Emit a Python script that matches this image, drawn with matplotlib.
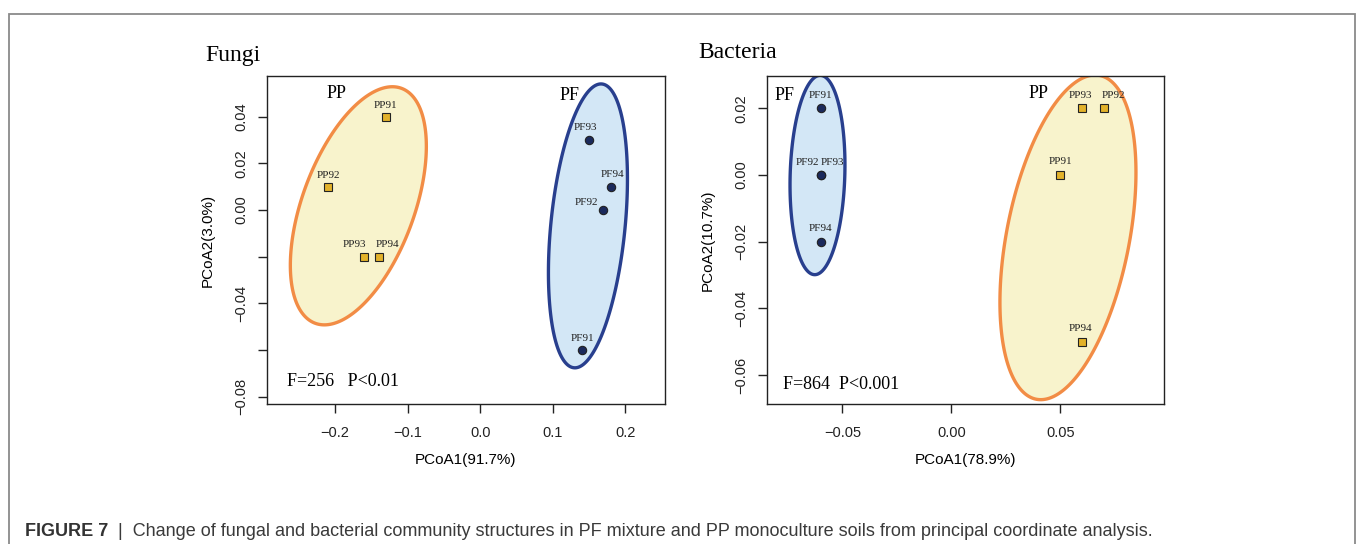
import numpy as np
import matplotlib
matplotlib.use('Agg')
import matplotlib.pyplot as plt

# Fungi PCoA scores
fungi_pp_names = ['PP91', 'PP92', 'PP93', 'PP94']
fungi_pp_x = [-0.13, -0.21, -0.16, -0.14]
fungi_pp_y = [0.04, 0.01, -0.02, -0.02]
fungi_pf_names = ['PF91', 'PF92', 'PF93', 'PF94']
fungi_pf_x = [0.14, 0.17, 0.15, 0.18]
fungi_pf_y = [-0.06, 0.00, 0.03, 0.01]

# Bacteria PCoA scores
bact_pf_names = ['PF91', 'PF92', 'PF93', 'PF94']
bact_pf_x = [-0.06, -0.06, -0.06, -0.06]
bact_pf_y = [0.02, 0.00, 0.00, -0.02]
bact_pp_names = ['PP91', 'PP92', 'PP93', 'PP94']
bact_pp_x = [0.05, 0.07, 0.06, 0.06]
bact_pp_y = [0.00, 0.02, 0.02, -0.05]

# group ellipses: centre x, centre y, sd x, sd y, correlation
fungi_pp_ell = [-0.168, 0.0018, 0.0938, 0.0510, 0.50]
fungi_pf_ell = [0.1487, -0.0068, 0.0545, 0.0608, 0.33]
bact_pf_ell = [-0.0614, 0.0, 0.0126, 0.0299, 0.10]
bact_pp_ell = [0.0535, -0.0187, 0.0312, 0.0487, 0.40]

fungi_stat = 'F=256   P<0.01'
bact_stat = 'F=864  P<0.001'

PP_EDGE, PP_FILL, PP_PT = '#F28C45', '#F8F3CC', '#E3B22A'
PF_EDGE, PF_FILL, PF_PT = '#283F8E', '#D3E7F6', '#1B2A5C'
SERIF = 'Liberation Serif'
SANS = 'Liberation Sans'


def ellipse_xy(cx, cy, sx, sy, r, n=300):
    t = np.linspace(0, 2 * np.pi, n, endpoint=False)
    x = cx + sx * np.cos(t)
    y = cy + sy * (r * np.cos(t) + np.sqrt(1 - r ** 2) * np.sin(t))
    return x, y


def draw_group(ax, ell, names, xs, ys, edge, fill, ptcol, marker, offs):
    ex, ey = ellipse_xy(*ell)
    ax.fill(ex, ey, fc=fill, ec=edge, lw=2.4, zorder=1)
    ax.plot(xs, ys, ls='none', marker=marker, ms=6 if marker == 'o' else 5.5,
            mfc=ptcol, mec='#222222', mew=0.8, zorder=3)
    # labels sit above each point, nudged sideways where they would collide
    for n, x, y, (dx, dy) in zip(names, xs, ys, offs):
        ax.annotate(n, (x, y), xytext=(dx * 0.72, dy * 0.72), textcoords='offset points',
                    ha='center', va='center', fontsize=8, family=SERIF,
                    color='#222222', zorder=4)


def style_axes(ax):
    for s in ax.spines.values():
        s.set_linewidth(1.0)
        s.set_color('#222222')
    ax.tick_params(direction='out', length=6.5, width=1.0, colors='#222222',
                   labelsize=10.5)
    ax.tick_params(axis='x', pad=9)
    ax.tick_params(axis='y', pad=7)
    for lab in ax.get_yticklabels():
        lab.set_rotation(90)
        lab.set_va('center')
    for lab in ax.get_xticklabels() + ax.get_yticklabels():
        lab.set_family(SANS)


fig = plt.figure(figsize=(13.57, 5.44), dpi=100)
W, H = 1357, 544

# Fungi panel
ax1 = fig.add_axes([267 / W, 1 - 404 / H, (665 - 267) / W, (404 - 76) / H])
draw_group(ax1, fungi_pp_ell, fungi_pp_names, fungi_pp_x, fungi_pp_y,
           PP_EDGE, PP_FILL, PP_PT, 's', [(0, 11), (1, 11), (-10, 12), (9, 12)])
draw_group(ax1, fungi_pf_ell, fungi_pf_names, fungi_pf_x, fungi_pf_y,
           PF_EDGE, PF_FILL, PF_PT, 'o', [(1, 12), (-17, 8), (-3, 12), (2, 12)])
ax1.set_xlim(-0.294, 0.255)
ax1.set_ylim(-0.0831, 0.0574)
ax1.set_xticks([-0.2, -0.1, 0.0, 0.1, 0.2])
ax1.set_xticklabels(['\u22120.2', '\u22120.1', '0.0', '0.1', '0.2'])
ax1.set_yticks([-0.08, -0.06, -0.04, -0.02, 0.0, 0.02, 0.04])
ax1.set_yticklabels(['\u22120.08', '', '\u22120.04', '', '0.00', '0.02', '0.04'])
style_axes(ax1)
ax1.set_xlabel('PCoA1(91.7%)', family=SANS, fontsize=11, labelpad=10)
ax1.set_ylabel('PCoA2(3.0%)', family=SANS, fontsize=11, labelpad=14)
ax1.text(-0.198, 0.0497, 'PP', family=SERIF, fontsize=13, ha='center', va='center')
ax1.text(0.123, 0.0489, 'PF', family=SERIF, fontsize=13, ha='center', va='center')
ax1.text(0.0495, 0.07, fungi_stat, transform=ax1.transAxes, family=SERIF,
         fontsize=13, ha='left', va='center')
fig.text(205 / W, 1 - 55 / H, 'Fungi', family=SERIF, fontsize=17, va='center')

# Bacteria panel
ax2 = fig.add_axes([766.7 / W, 1 - 404 / H, (1164.3 - 766.7) / W, (404 - 76) / H])
draw_group(ax2, bact_pf_ell, bact_pf_names, bact_pf_x, bact_pf_y,
           PF_EDGE, PF_FILL, PF_PT, 'o', [(0, 13), (-13, 13), (12, 13), (0, 13)])
draw_group(ax2, bact_pp_ell, bact_pp_names, bact_pp_x, bact_pp_y,
           PP_EDGE, PP_FILL, PP_PT, 's', [(0, 14), (10, 13), (-2, 13), (-2, 13)])
ax2.set_xlim(-0.0847, 0.0977)
ax2.set_ylim(-0.0687, 0.0297)
ax2.set_xticks([-0.05, 0.0, 0.05])
ax2.set_xticklabels(['\u22120.05', '0.00', '0.05'])
ax2.set_yticks([-0.06, -0.04, -0.02, 0.0, 0.02])
ax2.set_yticklabels(['\u22120.06', '\u22120.04', '\u22120.02', '0.00', '0.02'])
style_axes(ax2)
ax2.set_xlabel('PCoA1(78.9%)', family=SANS, fontsize=11, labelpad=10)
ax2.set_ylabel('PCoA2(10.7%)', family=SANS, fontsize=11, labelpad=14)
ax2.text(-0.0763, 0.024, 'PF', family=SERIF, fontsize=13, ha='center', va='center')
ax2.text(0.0399, 0.0245, 'PP', family=SERIF, fontsize=13, ha='center', va='center')
ax2.text(0.04, 0.06, bact_stat, transform=ax2.transAxes, family=SERIF,
         fontsize=13, ha='left', va='center')
fig.text(698 / W, 1 - 52 / H, 'Bacteria', family=SERIF, fontsize=17, va='center')

# outer frame and caption
fig.add_artist(plt.Rectangle((9 / W, -0.1), (1355 - 9) / W, 1.1 - 14 / H,
                             transform=fig.transFigure, fill=False,
                             ec='#8a8a8a', lw=1.3))
cap = fig.text(25 / W, 1 - 532 / H, 'FIGURE 7', fontsize=13, fontweight='bold',
               family=SANS, color='#333333', va='center')
ax1.annotate('  |  Change of fungal and bacterial community structures in PF mixture '
             'and PP monoculture soils from principal coordinate analysis.',
             xy=(1, 0.5), xycoords=cap, va='center', fontsize=13,
             family=SANS, color='#3a3a3a', annotation_clip=False)

fig.savefig('out.png', dpi=100)
